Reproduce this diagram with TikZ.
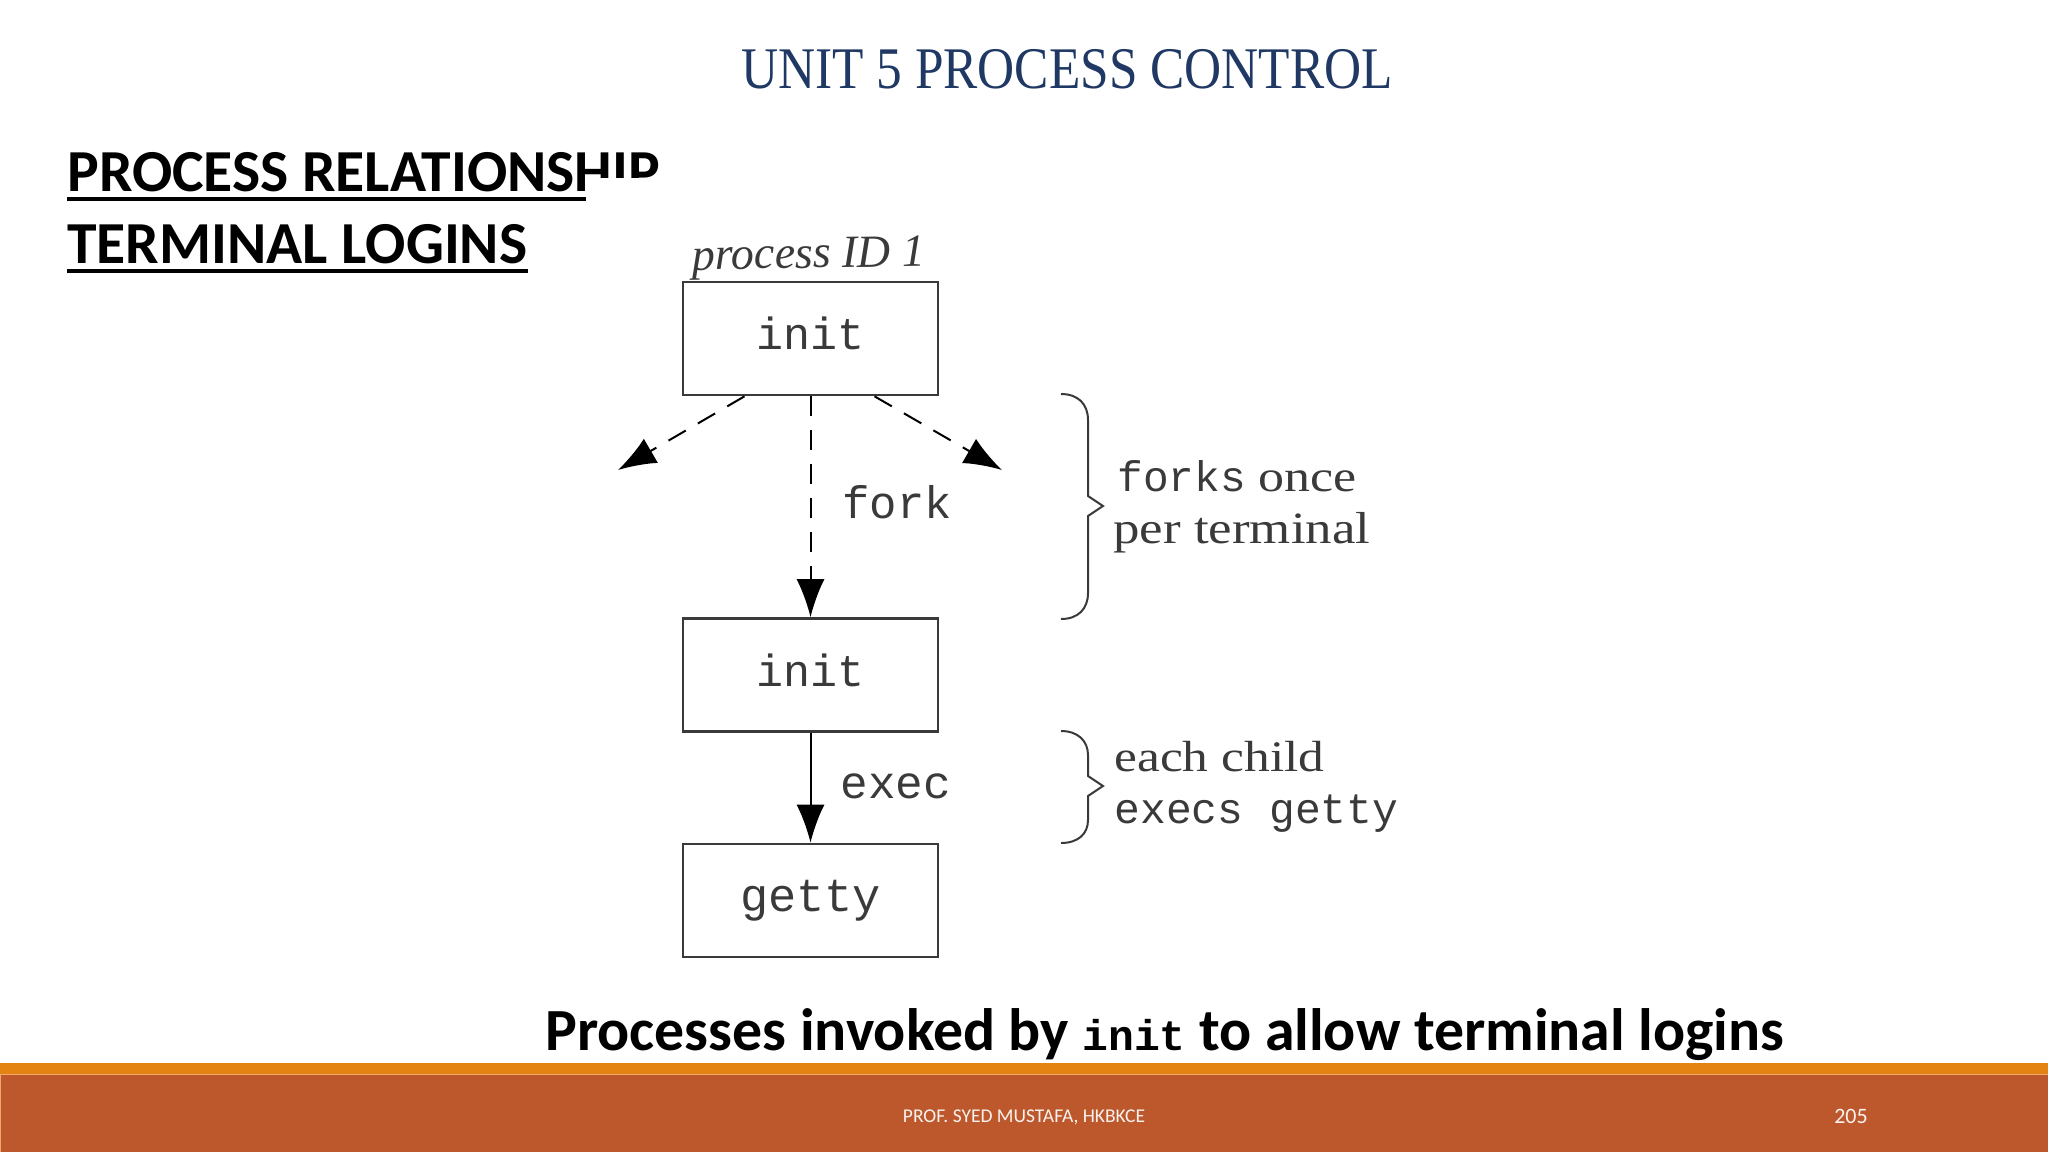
\documentclass[tikz,border=0pt]{standalone}
\usepackage{fontspec}
\setmainfont{Liberation Serif}
\setmonofont{Liberation Mono}
\newfontfamily\carlito{Carlito}
\newfontfamily\titlefont[FakeStretch=0.87]{Liberation Serif}
\newfontfamily\widefont[FakeStretch=1.18]{Liberation Serif}
\usetikzlibrary{arrows.meta,calc}
\definecolor{titleblue}{HTML}{1F3864}
\definecolor{barorange}{HTML}{E48312}
\definecolor{barrust}{HTML}{BD582C}
\definecolor{barlight}{HTML}{EFA868}
\definecolor{inkgrey}{HTML}{3A3A3A}
\tikzset{
  x=0.5pt,y=-0.5pt,
  procbox/.style={draw=inkgrey,line width=1.3pt,minimum width=127.5pt,minimum height=56.5pt,inner sep=0pt,font=\ttfamily\fontsize{22.5}{24}\selectfont,text=inkgrey,text height=11pt,text depth=0pt},
  flow/.style={draw=black,line width=1pt,-{Latex[length=19pt,width=14pt]}},
  flowdash/.style={flow,dash pattern=on 10pt off 7pt},
  brace/.style={draw=inkgrey,line width=1pt},
  lab/.style={anchor=base west,inner sep=0pt,text=inkgrey},
  heading/.style={anchor=base west,inner sep=0pt,font=\carlito\bfseries\fontsize{29.8}{32}\selectfont},
  rule/.style={draw=black,line width=1.7pt},
}
\begin{document}
\begin{tikzpicture}
\useasboundingbox (0,0) rectangle (2048,1152);
\fill[white] (0,0) rectangle (2048,1152);
\node[anchor=base,inner sep=0pt,text=titleblue,font=\titlefont\fontsize{29.5}{32}\selectfont] (title) at (1067,88) {UNIT 5 PROCESS CONTROL};
\node[heading] (h1) at (67,191) {PROCESS RELATIONSHIP};
\node[heading] (h2) at (67,263) {TERMINAL LOGINS};
\draw[rule] (67,199) -- (h1.base east |- 0,199);
\draw[rule] (67,271) -- (528,271);
% the pasted figure covers the end of the first heading
\fill[white] (586,178) rectangle (1420,985);
\fill[barorange] (0,1063) rectangle (2048,1074);
\fill[barrust] (0,1075) rectangle (2048,1152);
\draw[barlight,line width=0.6pt] (0,1074.5) -- (2048,1074.5);
\draw[barlight,line width=0.6pt] (0.6,1074.5) -- (0.6,1152);
%
\node[lab,font=\itshape\fontsize{23}{25}\selectfont,rotate=1] (pid) at (692,270) {process ID 1};
\node[procbox] (a) at (810.5,338.5) {init};
\node[procbox] (b) at (810.5,675) {init};
\node[procbox,font=\ttfamily\fontsize{23.5}{25}\selectfont] (c) at (810.5,900.5) {getty};
\coordinate (lf) at (618,470);
\coordinate (rf) at (1002,470);
\draw[flowdash] ([xshift=-33pt]a.south) -- (lf);
\draw[flowdash] ([xshift=32pt]a.south) -- (rf);
\draw[flowdash] (a.south) -- (b.north);
\draw[flow] (b.south) -- (c.north);
\node[lab,font=\ttfamily\fontsize{22.8}{24}\selectfont] (fk) at (842,518) {fork};
\node[lab,font=\ttfamily\fontsize{23}{24}\selectfont] (ex) at (840,798) {exec};
%
\coordinate (b1t) at (1061,394);
\coordinate (b1m) at (1103,506);
\coordinate (b1b) at (1061,619);
\draw[brace] (b1t) .. controls (1078,394) and (1088,404) .. (1088,420) -- (1088,496) -- (b1m) -- (1088,516) -- (1088,593) .. controls (1088,609) and (1078,619) .. (b1b);
\coordinate (b2t) at (1061,731);
\coordinate (b2m) at (1103,786);
\coordinate (b2b) at (1061,843);
\draw[brace] (b2t) .. controls (1078,731) and (1088,741) .. (1088,755) -- (1088,776) -- (b2m) -- (1088,796) -- (1088,820) .. controls (1088,834) and (1078,843) .. (b2b);
%
\node[lab,font=\widefont\fontsize{22}{24}\selectfont] (t1) at (1117,491) {{\ttfamily\fontsize{21.4}{24}\selectfont forks} once};
\node[lab,font=\widefont\fontsize{22.4}{24}\selectfont] (t2) at (1113,543) {per terminal};
\node[lab,font=\widefont\fontsize{21.8}{24}\selectfont] (t3) at (1114,771) {each child};
\node[lab,font=\ttfamily\fontsize{21.5}{24}\selectfont] (t4) at (1114,823) {execs getty};
%
\node[anchor=base west,inner sep=0pt,font=\carlito\bfseries\fontsize{29.9}{32}\selectfont] (cap) at (545,1050) {Processes invoked by {\ttfamily\bfseries\fontsize{21.5}{24}\selectfont init} to allow terminal logins};
\node[anchor=base,inner sep=0pt,text=white!92!barrust,font=\carlito\fontsize{9.75}{11}\selectfont] (foot) at (1024,1122) {PROF. SYED MUSTAFA, HKBKCE};
\node[anchor=base,inner sep=0pt,text=white!92!barrust,font=\carlito\fontsize{11}{13}\selectfont] (pg) at (1851,1123) {205};
\end{tikzpicture}
\end{document}
